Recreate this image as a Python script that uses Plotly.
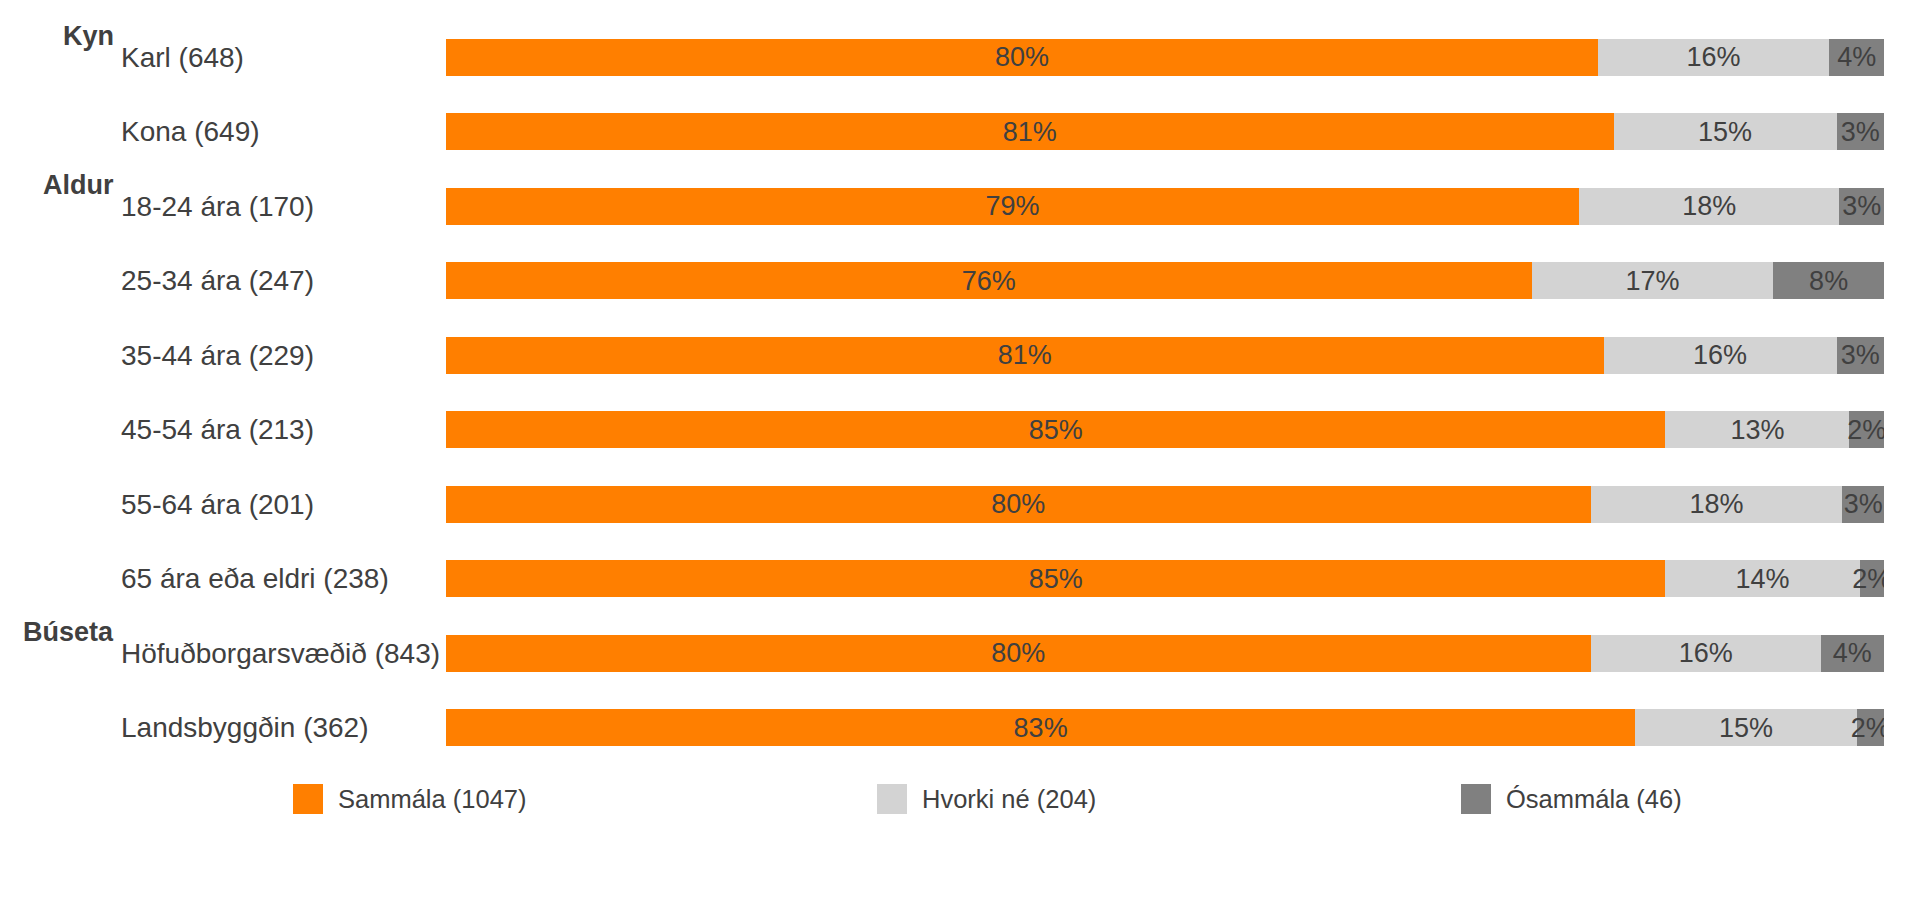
import plotly.graph_objects as go

# ---- data ----
categories = [
    "Karl (648)", "Kona (649)",
    "18-24 ára (170)", "25-34 ára (247)", "35-44 ára (229)", "45-54 ára (213)",
    "55-64 ára (201)", "65 ára eða eldri (238)",
    "Höfuðborgarsvæðið (843)", "Landsbyggðin (362)",
]
groups = {"Kyn": "Karl (648)", "Aldur": "18-24 ára (170)", "Búseta": "Höfuðborgarsvæðið (843)"}

series_names = ["Sammála (1047)", "Hvorki né (204)", "Ósammála (46)"]
series_colors = ["#FF7F00", "#D3D3D3", "#808080"]

sammala = [80.1, 81.2, 78.8, 75.5, 80.5, 84.8, 79.6, 84.8, 79.6, 82.7]
hvorki = [16.1, 15.5, 18.1, 16.8, 16.2, 12.8, 17.5, 13.5, 16.0, 15.4]
osammala = [3.8, 3.3, 3.1, 7.7, 3.3, 2.4, 2.9, 1.7, 4.4, 1.9]

sammala_lbl = [80, 81, 79, 76, 81, 85, 80, 85, 80, 83]
hvorki_lbl = [16, 15, 18, 17, 16, 13, 18, 14, 16, 15]
osammala_lbl = [4, 3, 3, 8, 3, 2, 3, 2, 4, 2]

values = [sammala, hvorki, osammala]
labels = [sammala_lbl, hvorki_lbl, osammala_lbl]

# ---- layout geometry (screen pixels; page body has an 8px margin) ----
OFF = 8
SW, SH = 1908, 903
W, H = SW - OFF, SH - OFF
PLOT_L, PLOT_R, PLOT_T, PLOT_B = 446, 1884, 20, 765
ML, MR = PLOT_L - OFF, W - (PLOT_R - OFF)
MT, MB = PLOT_T - OFF, H - (PLOT_B - OFF)
PW, PH = PLOT_R - PLOT_L, PLOT_B - PLOT_T
TXT = "#404040"
FONT = "Liberation Sans, Arial, sans-serif"


def px_x(px):
    return (px - PLOT_L) / PW


def px_y(py):
    return (PLOT_B - py) / PH


fig = go.Figure()
for name, col, vals, lbl in zip(series_names, series_colors, values, labels):
    fig.add_trace(go.Bar(
        y=categories, x=vals, name=name, orientation="h",
        marker=dict(color=col, line=dict(width=0)),
        text=[f"{v}%" for v in lbl],
        textposition="inside", insidetextanchor="middle", textangle=0,
        textfont=dict(color=TXT, size=27, family=FONT),
        showlegend=False, hoverinfo="skip",
    ))

annotations = []
# category labels (left aligned)
for c in categories:
    annotations.append(dict(
        x=px_x(118.5), xref="paper", y=c, yref="y", text=c, showarrow=False,
        xanchor="left", yanchor="middle", font=dict(size=28, color=TXT, family=FONT),
    ))
# group headers
for g, c in groups.items():
    annotations.append(dict(
        x=px_x(116), xref="paper", y=c, yref="y", text=f"<b>{g}</b>", showarrow=False,
        xanchor="right", yanchor="middle", yshift=21,
        font=dict(size=27, color=TXT, family=FONT),
    ))

# legend drawn as rectangles + text
shapes = []
leg_x0, leg_step, leg_cy, box = 293, 584, 799, 30
for i, (name, col) in enumerate(zip(series_names, series_colors)):
    x0 = leg_x0 + i * leg_step
    shapes.append(dict(
        type="rect", xref="paper", yref="paper",
        x0=px_x(x0), x1=px_x(x0 + box), y0=px_y(leg_cy + box / 2), y1=px_y(leg_cy - box / 2),
        fillcolor=col, line=dict(width=0),
    ))
    annotations.append(dict(
        x=px_x(x0 + box + 13), xref="paper", y=px_y(leg_cy), yref="paper", text=name,
        showarrow=False, xanchor="left", yanchor="middle",
        font=dict(size=25.5, color=TXT, family=FONT),
    ))

fig.update_layout(
    barmode="stack", bargap=0.5,
    width=W, height=H,
    margin=dict(l=ML, r=MR, t=MT, b=MB, pad=0),
    paper_bgcolor="white", plot_bgcolor="white",
    font=dict(family=FONT, color=TXT),
    uniformtext=dict(minsize=27, mode="show"),
    xaxis=dict(range=[0, 100], visible=False, fixedrange=True),
    yaxis=dict(categoryorder="array", categoryarray=categories, autorange="reversed",
               showticklabels=False, showgrid=False, zeroline=False, showline=False, ticks=""),
    annotations=annotations, shapes=shapes,
    showlegend=False,
)

fig.write_html("out.html", config={"displayModeBar": False})
